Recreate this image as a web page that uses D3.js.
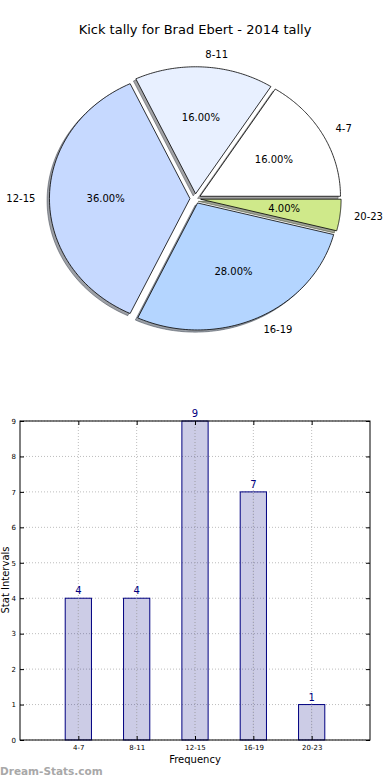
<!DOCTYPE html>
<html><head><meta charset="utf-8">
<script src="https://cdn.jsdelivr.net/npm/d3@7"></script>
<style>body{margin:0;background:#fff}svg{display:block;font-family:"DejaVu Sans",sans-serif}</style>
</head><body><svg id="c" width="390" height="780"></svg>
<script>
const categories = ["4-7","8-11","12-15","16-19","20-23"];
const values = [4,4,9,7,1];
const pieColors = ["#ffffff","#e8f0ff","#c6d9ff","#b4d5ff","#cfe98a"];
const yTicks = [0,1,2,3,4,5,6,7,8,9];
const title = "Kick tally for Brad Ebert - 2014 tally";

const svg = d3.select("#c");
svg.append("text").attr("x",195).attr("y",34).attr("text-anchor","middle").attr("font-size",13).text(title);

// ---- Pie (matplotlib style: start at 0°, counterclockwise, elliptical axes) ----
const cx = 195.3, cy = 198.6, rx = 140.5, ry = 127, expl = 0.038;
const total = d3.sum(values);
let acc = 0;
const wedges = values.map((v,i)=>{const a0 = acc/total*2*Math.PI; acc+=v; const a1 = acc/total*2*Math.PI; return {i,v,a0,a1,am:(a0+a1)/2};});
function wedgePath(w, ox, oy){
  const n = 80; const pts=[[ox,oy]];
  for(let k=0;k<=n;k++){const a = w.a0+(w.a1-w.a0)*k/n; pts.push([ox+rx*Math.cos(a), oy-ry*Math.sin(a)]);}
  return d3.line()(pts)+"Z";
}
const pieG = svg.append("g");
const shadowG = pieG.append("g"), wedgeG = pieG.append("g"), textG = pieG.append("g");
wedges.forEach(w=>{
  const ox = cx + expl*rx*Math.cos(w.am), oy = cy - expl*ry*Math.sin(w.am);
  const c = d3.rgb(pieColors[w.i]);
  const sc = d3.rgb(c.r*0.3,c.g*0.3,c.b*0.3);
  shadowG.append("path").attr("d",wedgePath(w, ox-0.017*rx, oy+0.017*ry)).attr("fill",sc).attr("fill-opacity",0.5).attr("stroke",sc).attr("stroke-opacity",0.5).attr("stroke-width",1);
  wedgeG.append("path").attr("d",wedgePath(w, ox, oy)).attr("fill",pieColors[w.i]).attr("stroke","#000").attr("stroke-width",0.8).attr("stroke-linejoin","round");
  const lx = ox + 1.1*rx*Math.cos(w.am), ly = oy - 1.1*ry*Math.sin(w.am);
  textG.append("text").attr("x",lx).attr("y",ly).attr("dy","0.35em").attr("font-size",10)
    .attr("text-anchor", Math.cos(w.am)>0?"start":"end").text(categories[w.i]);
  const px = ox + 0.6*rx*Math.cos(w.am), py = oy - 0.6*ry*Math.sin(w.am);
  textG.append("text").attr("x",px).attr("y",py).attr("dy","0.35em").attr("font-size",10)
    .attr("text-anchor","middle").text((w.v/total*100).toFixed(2)+"%");
});

// ---- Bar chart ----
const L=20, R=370, T=421, B=740;
const x = d3.scaleLinear().domain([-1,5]).range([L,R]);
const y = d3.scaleLinear().domain([0,9]).range([B,T]);
const g = svg.append("g");
const grid = g.append("g").attr("stroke","#bdbdbd").attr("stroke-width",1).attr("stroke-dasharray","1,2");
yTicks.forEach(t=>grid.append("line").attr("x1",L).attr("x2",R).attr("y1",y(t)).attr("y2",y(t)));
categories.forEach((c,i)=>grid.append("line").attr("x1",x(i)).attr("x2",x(i)).attr("y1",T).attr("y2",B));
const bw = 0.45;
g.selectAll("rect.bar").data(values).join("rect").attr("class","bar")
  .attr("x",(d,i)=>x(i-bw/2)).attr("width",x(bw)-x(0))
  .attr("y",d=>y(d)).attr("height",d=>B-y(d))
  .attr("fill","#000080").attr("fill-opacity",0.2).attr("stroke","#000080").attr("stroke-width",1);
const grid2 = g.append("g").attr("stroke","#bdbdbd").attr("stroke-width",1).attr("stroke-dasharray","1,2").attr("opacity",0.8);
categories.forEach((c,i)=>grid2.append("line").attr("x1",x(i)).attr("x2",x(i)).attr("y1",y(values[i])).attr("y2",B));
g.selectAll("text.val").data(values).join("text").attr("class","val")
  .attr("x",(d,i)=>x(i)).attr("y",d=>y(d)-4).attr("text-anchor","middle")
  .attr("font-size",10).attr("fill","#000080").text(d=>d);
g.append("rect").attr("x",L).attr("y",T).attr("width",R-L).attr("height",B-T).attr("fill","none").attr("stroke","#000").attr("stroke-width",1);
const yAx = g.append("g").attr("transform",`translate(${L},0)`).call(d3.axisLeft(y).tickValues(yTicks).tickFormat(d3.format("d")).tickSizeInner(-4).tickSizeOuter(0).tickPadding(4));
yAx.select(".domain").remove();
yAx.selectAll("text").attr("font-size",7).attr("font-family","DejaVu Sans");
const yAxR = g.append("g").attr("transform",`translate(${R},0)`).call(d3.axisRight(y).tickValues(yTicks).tickFormat("").tickSizeInner(-4).tickSizeOuter(0));
yAxR.select(".domain").remove();
const xAx = g.append("g").attr("transform",`translate(0,${B})`).call(d3.axisBottom(x).tickValues(d3.range(categories.length)).tickFormat(i=>categories[i]).tickSizeInner(-4).tickSizeOuter(0).tickPadding(5));
xAx.select(".domain").remove();
xAx.selectAll("text").attr("font-size",7).attr("font-family","DejaVu Sans");
const xAxT = g.append("g").attr("transform",`translate(0,${T})`).call(d3.axisTop(x).tickValues(d3.range(categories.length)).tickFormat("").tickSizeInner(-4).tickSizeOuter(0));
xAxT.select(".domain").remove();
svg.append("text").attr("x",195).attr("y",763).attr("text-anchor","middle").attr("font-size",10).text("Frequency");
svg.append("text").attr("transform","translate(9,580) rotate(-90)").attr("text-anchor","middle").attr("font-size",10).text("Stat Intervals");
svg.append("text").attr("x",0).attr("y",775).attr("font-size",10.5).attr("fill","#a8a8a8").attr("font-weight","bold").text("Dream-Stats.com");
</script></body></html>
